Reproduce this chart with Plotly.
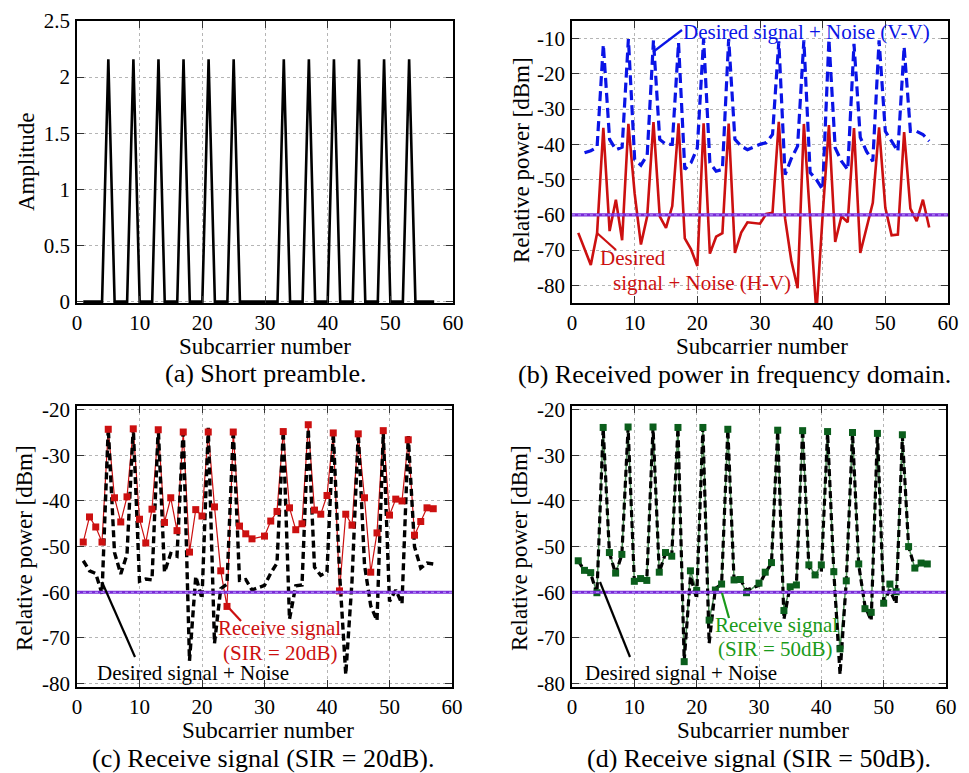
import plotly.graph_objects as go

W, H = 969, 773

# ---------------- data ----------------
subcarrier_all = [1, 2, 3, 4, 5, 6, 7, 8, 9, 10, 11, 12, 13, 14, 15, 16, 17, 18, 19, 20,
                  21, 22, 23, 24, 25, 26, 27, 28, 29, 30, 31, 32, 33, 34, 35, 36, 37, 38, 39, 40,
                  41, 42, 43, 44, 45, 46, 47, 48, 49, 50, 51, 52, 53, 54, 55, 56, 57]
preamble_amp = [0, 0, 0, 0, 2.16, 0, 0, 0, 2.16, 0, 0, 0, 2.16, 0, 0, 0, 2.16, 0, 0, 0,
                2.16, 0, 0, 0, 2.16, 0, 0, 0, 0, 0, 0, 0, 2.16, 0, 0, 0, 2.16, 0, 0, 0,
                2.16, 0, 0, 0, 2.16, 0, 0, 0, 2.16, 0, 0, 0, 2.16, 0, 0, 0, 0]

# used subcarriers (DC subcarrier 29 not plotted)
subcarrier = [1, 2, 3, 4, 5, 6, 7, 8, 9, 10, 11, 12, 13, 14, 15, 16, 17, 18, 19, 20,
              21, 22, 23, 24, 25, 26, 27, 28, 30, 31, 32, 33, 34, 35, 36, 37, 38, 39, 40,
              41, 42, 43, 44, 45, 46, 47, 48, 49, 50, 51, 52, 53, 54, 55, 56, 57]

# (b) received power
hv_power = [-65.1, -69.8, -74.2, -65.2, -35.3, -64.6, -55.7, -67.2, -34.2, -54.0,
            -68.4, -60.4, -33.7, -60.4, -63.7, -57.5, -34.0, -66.7, -69.8, -74.5,
            -34.0, -71.0, -66.2, -65.2, -34.1, -70.8, -65.0, -62.1,
            -62.5, -59.7, -59.4, -33.6, -61.0, -73.0, -80.8, -34.2, -60.0, -88.0, -60.0,
            -34.5, -67.7, -60.4, -62.1, -35.4, -70.8, -63.7, -56.6, -35.2, -58.0,
            -65.8, -65.6, -36.5, -58.2, -61.8, -55.7, -63.6]
vv_subcarrier = [2, 3, 4, 5, 6, 7, 8, 9, 10, 11, 12, 13, 14, 15, 16, 17, 18, 19, 20,
                 21, 22, 23, 24, 25, 26, 27, 28, 30, 31, 32, 33, 34, 35, 36, 37, 38, 39, 40,
                 41, 42, 43, 44, 45, 46, 47, 48, 49, 50, 51, 52, 53, 54, 55, 56, 57]
vv_power = [-42.4, -41.8, -40.8, -11.7, -38.6, -41.5, -40.8, -10.1, -44.3, -45.9,
            -43.0, -10.5, -38.6, -40.0, -40.0, -11.2, -47.1, -45.2, -41.0,
            -10.1, -45.2, -47.6, -47.1, -10.1, -38.6, -40.5, -41.5,
            -40.0, -39.5, -37.2, -10.8, -48.6, -44.0, -40.5, -10.5, -48.0, -50.0, -52.8,
            -10.2, -41.0, -44.8, -47.2, -11.5, -38.0, -42.0, -44.8, -10.5, -36.3,
            -39.1, -42.0, -12.3, -36.3, -36.3, -37.2, -39.1]

noise_level = -60

# (c)/(d) desired signal + noise
desired_noise = [-53.1, -55.3, -55.9, -60.3, -24.0, -51.3, -56.0, -51.7, -23.9, -57.6,
                 -57.1, -57.3, -23.9, -55.6, -51.5, -52.1, -23.9, -75.0, -56.5, -61.4,
                 -24.0, -71.2, -59.2, -58.2, -24.3, -57.4, -57.2, -59.5,
                 -58.5, -55.8, -53.6, -24.6, -65.9, -58.6, -58.4, -24.2, -54.5, -56.3, -55.5,
                 -25.0, -55.5, -78.0, -57.6, -25.1, -54.0, -63.0, -66.2, -25.0, -62.0,
                 -59.5, -62.5, -25.8, -50.0, -54.7, -53.6, -53.8]
receive_sir20 = [-49.0, -43.5, -45.7, -49.0, -24.3, -39.3, -44.6, -39.1, -24.2, -44.0,
                 -49.2, -41.8, -24.4, -44.7, -39.3, -46.5, -24.9, -51.2, -41.9, -43.3,
                 -24.9, -41.3, -55.3, -63.1, -24.9, -45.5, -47.2, -48.3,
                 -47.7, -44.4, -42.3, -24.8, -41.5, -46.3, -45.0, -23.3, -42.0, -42.9, -38.8,
                 -25.1, -59.7, -42.9, -45.3, -25.3, -39.3, -55.6, -47.0, -24.6, -43.1,
                 -39.6, -40.0, -26.6, -47.5, -44.5, -41.5, -41.7]
receive_sir50 = [-53.1, -55.2, -55.7, -60.1, -23.9, -51.3, -55.8, -51.7, -23.8, -57.6,
                 -57.0, -57.4, -23.8, -55.6, -51.3, -52.1, -23.9, -75.2, -55.3, -59.6,
                 -23.9, -66.1, -59.5, -58.2, -24.3, -57.3, -57.2, -60.1,
                 -58.0, -55.6, -53.5, -24.5, -64.0, -58.8, -58.4, -24.6, -54.0, -56.2, -54.0,
                 -24.8, -55.5, -72.4, -57.5, -25.0, -53.8, -63.6, -64.4, -25.2, -62.4,
                 -58.2, -59.9, -25.5, -50.0, -54.7, -53.6, -53.8]

x_ticks = [0, 10, 20, 30, 40, 50, 60]
amp_ticks = [0, 0.5, 1, 1.5, 2, 2.5]
amp_labels = ["0", "0.5", "1", "1.5", "2", "2.5"]
pow_ticks_b = [-80, -70, -60, -50, -40, -30, -20, -10]
pow_ticks_cd = [-80, -70, -60, -50, -40, -30, -20]

# ---------------- styling ----------------
FONT = "Liberation Serif"
RED = "#cc1010"
BLUE = "#0a14e6"
GREEN_M = "#0b5e1c"
GREEN_L = "#4b8f55"
PURPLE = "#7a2ad8"


def px(x):
    return x / W


def py(y):
    return 1 - y / H


fig = go.Figure()

# (a)
fig.add_trace(go.Scatter(x=subcarrier_all, y=preamble_amp, mode="lines",
                         line=dict(color="black", width=2.6), xaxis="x", yaxis="y",
                         showlegend=False))
# (b)
fig.add_trace(go.Scatter(x=vv_subcarrier, y=vv_power, mode="lines",
                         line=dict(color=BLUE, width=3.2, dash="10px,5px"),
                         xaxis="x2", yaxis="y2", showlegend=False))
fig.add_trace(go.Scatter(x=subcarrier, y=hv_power, mode="lines",
                         line=dict(color=RED, width=2.6), xaxis="x2", yaxis="y2",
                         showlegend=False))
# (c)
fig.add_trace(go.Scatter(x=subcarrier, y=receive_sir20, mode="lines",
                         line=dict(color=RED, width=1.2), xaxis="x3", yaxis="y3",
                         showlegend=False))
fig.add_trace(go.Scatter(x=subcarrier, y=desired_noise, mode="lines",
                         line=dict(color="black", width=3.4, dash="7px,4px"),
                         xaxis="x3", yaxis="y3", showlegend=False))
fig.add_trace(go.Scatter(x=subcarrier, y=receive_sir20, mode="markers",
                         marker=dict(symbol="square", size=7, color=RED,
                                     line=dict(width=0)),
                         xaxis="x3", yaxis="y3", showlegend=False))
# (d)
fig.add_trace(go.Scatter(x=subcarrier, y=receive_sir50, mode="lines",
                         line=dict(color=GREEN_L, width=1.5), xaxis="x4", yaxis="y4",
                         showlegend=False))
fig.add_trace(go.Scatter(x=subcarrier, y=desired_noise, mode="lines",
                         line=dict(color="black", width=3.2, dash="7px,4px"),
                         xaxis="x4", yaxis="y4", showlegend=False))
fig.add_trace(go.Scatter(x=subcarrier, y=receive_sir50, mode="markers",
                         marker=dict(symbol="square", size=7, color=GREEN_M,
                                     line=dict(width=0)),
                         xaxis="x4", yaxis="y4", showlegend=False))

axis_common = dict(showline=True, linecolor="black", linewidth=1.5, mirror="allticks",
                   ticks="inside", ticklen=7, tickcolor="#333333", tickwidth=1,
                   showgrid=True, gridcolor="#b5b5b5", griddash="dot", gridwidth=1,
                   zeroline=False, tickfont=dict(family=FONT, size=21, color="black"),
                   automargin=False)

xa = dict(range=[0, 60], tickvals=x_ticks, ticktext=[str(v) for v in x_ticks],
          ticklabelstandoff=0, **axis_common)
ya = dict(ticklabelstandoff=1, **axis_common)

dom_x_left = [px(77), px(453)]
dom_x_right = [px(572), px(948)]
dom_y_top = [py(303), py(21)]
dom_y_bot = [py(687), py(406)]

fig.update_layout(
    template="none",
    width=W, height=H, margin=dict(l=0, r=0, t=0, b=0, autoexpand=False),
    paper_bgcolor="white", plot_bgcolor="white",
    font=dict(family=FONT, size=22, color="black"),
    xaxis=dict(domain=dom_x_left, anchor="y", **xa),
    yaxis=dict(domain=dom_y_top, anchor="x", range=[-0.012, 2.5], tickvals=amp_ticks,
               ticktext=amp_labels, **ya),
    xaxis2=dict(domain=dom_x_right, anchor="y2", **xa),
    yaxis2=dict(domain=dom_y_top, anchor="x2", range=[-85, -5], tickvals=pow_ticks_b,
                ticktext=[str(v) for v in pow_ticks_b], **ya),
    xaxis3=dict(domain=[px(77), px(452)], anchor="y3", **xa),
    yaxis3=dict(domain=dom_y_bot, anchor="x3", range=[-80.75, -19.2], tickvals=pow_ticks_cd,
                ticktext=[str(v) for v in pow_ticks_cd], **ya),
    xaxis4=dict(domain=[px(572), px(946)], anchor="y4", **xa),
    yaxis4=dict(domain=dom_y_bot, anchor="x4", range=[-80.75, -19.2], tickvals=pow_ticks_cd,
                ticktext=[str(v) for v in pow_ticks_cd], **ya),
)

shapes = []
# noise level line in b, c, d
for xr, yr in (("x2", "y2"), ("x3", "y3"), ("x4", "y4")):
    shapes.append(dict(type="line", xref=xr, yref=yr, x0=0, x1=60, y0=noise_level,
                       y1=noise_level, line=dict(color=PURPLE, width=3.2), layer="above"))
    shapes.append(dict(type="line", xref=xr, yref=yr, x0=0, x1=60, y0=noise_level,
                       y1=noise_level, line=dict(color="#b9a6ff", width=1, dash="dot"),
                       layer="above"))


def pointer(x0, y0, x1, y1, color, width=2.2):
    shapes.append(dict(type="line", xref="paper", yref="paper", x0=px(x0), y0=py(y0),
                       x1=px(x1), y1=py(y1), line=dict(color=color, width=width)))


pointer(653, 52, 682, 30, BLUE)
pointer(597, 233, 616, 250, RED)
pointer(228, 607, 241, 621, RED)
pointer(102, 582, 135, 657, "black")
pointer(722, 593, 729, 618, "#1a9a1a")
pointer(600, 582, 630, 657, "black")
fig.update_layout(shapes=shapes)

ann = []


def text(x, y, s, size=21, color="black", anchor="left"):
    ann.append(dict(x=px(x), y=py(y), xref="paper", yref="paper", text=s, showarrow=False,
                    xanchor=anchor, yanchor="middle",
                    font=dict(family=FONT, size=size, color=color)))


def vtext(x, y, s, size=23):
    ann.append(dict(x=px(x), y=py(y), xref="paper", yref="paper", text=s, showarrow=False,
                    xanchor="center", yanchor="middle", textangle=-90,
                    font=dict(family=FONT, size=size, color="black")))


# series labels
text(681, 32, "Desired signal + Noise (V-V)", color=BLUE)
text(598, 258, "Desired", color=RED)
text(611, 283, "signal + Noise (H-V)", color=RED)
text(216, 628, "Receive signal", color=RED)
text(221, 653, "(SIR = 20dB)", color=RED)
text(95, 673, "Desired signal + Noise")
text(713, 625, "Receive signal", color="#1a9a1a")
text(716, 649, "(SIR = 50dB)", color="#1a9a1a")
text(583, 673, "Desired signal + Noise")

# axis titles
text(265, 346, "Subcarrier number", size=23, anchor="center")
text(762, 346, "Subcarrier number", size=23, anchor="center")
text(268, 730, "Subcarrier number", size=23, anchor="center")
text(763, 730, "Subcarrier number", size=23, anchor="center")
vtext(26, 162, "Amplitude")
vtext(521, 160, "Relative power [dBm]")
vtext(24, 548, "Relative power [dBm]")
vtext(519, 548, "Relative power [dBm]")

# captions
text(265, 373, "(a) Short preamble.", size=26, anchor="center")
text(734, 374, "(b) Received power in frequency domain.", size=26, anchor="center")
text(263, 758, "(c) Receive signal (SIR = 20dB).", size=26, anchor="center")
text(759, 758, "(d) Receive signal (SIR = 50dB).", size=26, anchor="center")

fig.update_layout(annotations=ann)

fig.write_html("out.html", config={"displayModeBar": False},
               post_script="document.body.style.margin='0px';")
